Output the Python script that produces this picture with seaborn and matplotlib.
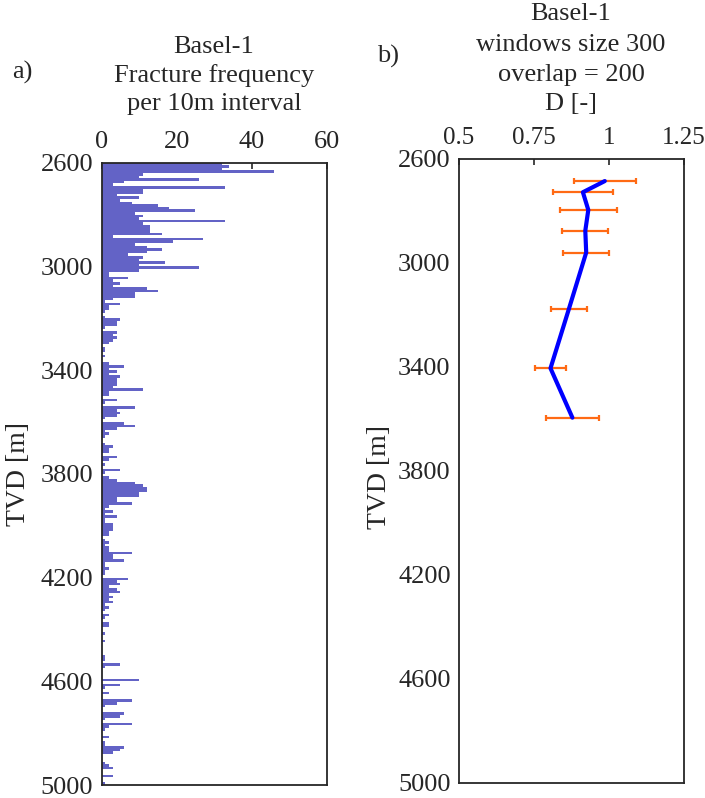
import numpy as np
import pandas as pd
import matplotlib
matplotlib.use("Agg")
import matplotlib.pyplot as plt
import seaborn as sns

# ---------------- data ----------------
# fracture counts per 10 m interval, starting at 2600 m TVD
freq = [32, 34, 32, 46, 11, 10, 26, 6, 3, 33, 11, 11, 4, 10, 5, 8, 15, 18, 25, 9,
        11, 10, 33, 11, 13, 13, 13, 16, 3, 27, 19, 9, 12, 16, 12, 7, 11, 10, 17, 10,
        26, 10, 2, 2, 7, 3, 5, 3, 12, 15, 9, 9, 3, 1, 5, 2, 2, 1, 0, 1,
        5, 4, 4, 1, 0, 4, 3, 4, 3, 2, 0, 1, 1, 0, 1, 0, 0, 2, 6, 2,
        4, 2, 5, 4, 4, 4, 3, 11, 2, 2, 0, 4, 1, 0, 9, 4, 5, 4, 1, 0,
        6, 9, 4, 1, 2, 1, 0, 0, 1, 3, 2, 2, 0, 4, 2, 0, 1, 0, 5, 1,
        0, 2, 4, 9, 11, 12, 12, 10, 10, 4, 4, 8, 2, 1, 3, 1, 4, 1, 1, 3,
        3, 3, 2, 2, 0, 1, 2, 1, 2, 2, 8, 3, 3, 6, 1, 1, 2, 1, 1, 0,
        7, 4, 5, 2, 4, 5, 2, 3, 2, 3, 1, 2, 1, 0, 2, 1, 0, 2, 2, 0,
        0, 1, 0, 0, 1, 0, 0, 0, 0, 0, 1, 1, 0, 5, 1, 0, 0, 0, 0, 10,
        0, 5, 1, 0, 2, 0, 0, 8, 4, 1, 0, 0, 6, 5, 1, 0, 8, 2, 1, 0,
        0, 2, 0, 1, 1, 6, 5, 3, 0, 0, 0, 1, 2, 3, 0, 0, 3, 0, 0, 1]
bin_top = 2600
bin_size = 10
bin_depth = [bin_top + bin_size * (i + 0.5) for i in range(len(freq))]

# fractal dimension D (window 300, overlap 200)
d_depth = [2686, 2729, 2797, 2877, 2961, 3179, 3406, 3596]
d_value = [0.986, 0.913, 0.931, 0.921, 0.924, 0.866, 0.805, 0.878]
d_err = [0.104, 0.100, 0.094, 0.077, 0.077, 0.060, 0.052, 0.087]

y_ticks = [2600, 3000, 3400, 3800, 4200, 4600, 5000]
x1_ticks = [0, 20, 40, 60]
x2_ticks = [0.5, 0.75, 1, 1.25]
x2_labels = ["0.5", "0.75", "1", "1.25"]

# ---------------- style ----------------
sns.set_theme(style="white")
plt.rcParams["font.family"] = ["Liberation Serif", "DejaVu Serif"]
TXT = "#262626"
FS = 19

W, H = 705, 798
fig = plt.figure(figsize=(W / 100, H / 100), dpi=100)


def rect(l, r, t, b):
    return [l / W, 1 - b / H, (r - l) / W, (b - t) / H]


ax1 = fig.add_axes(rect(101.7, 326.7, 162.7, 785.0))
ax2 = fig.add_axes(rect(459.0, 684.0, 158.7, 782.7))

# ---------------- panel a ----------------
df1 = pd.DataFrame({"depth": bin_depth, "freq": freq})
sns.barplot(data=df1, x="freq", y="depth", orient="y", native_scale=True,
            color="#6363C6", saturation=1, width=1.0, errorbar=None,
            linewidth=0, edgecolor="none", ax=ax1)
ax1.set_xlim(0, 60)
ax1.set_xticks(x1_ticks)

# ---------------- panel b ----------------
ax2.errorbar(d_value, d_depth, xerr=d_err, fmt="none", ecolor="#FF6A14",
             elinewidth=1.6, capsize=2.2, capthick=1.6, zorder=2)
df2 = pd.DataFrame({"depth": d_depth, "D": d_value})
sns.lineplot(data=df2, x="D", y="depth", sort=False, estimator=None,
             color="#0000FF", linewidth=3.0, ax=ax2, zorder=3)
ax2.set_xlim(0.5, 1.25)
ax2.set_xticks(x2_ticks)
ax2.set_xticklabels(x2_labels)

for ax in (ax1, ax2):
    ax.set_ylim(5000, 2600)
    ax.set_yticks(y_ticks)
    ax.xaxis.tick_top()
    ax.tick_params(axis="both", direction="in", length=4.5, width=1.2,
                   color=TXT, labelcolor=TXT, labelsize=FS)
    ax.tick_params(axis="x", pad=7)
    ax.tick_params(axis="y", pad=6)
    ax.set_xlabel("")
    ax.set_ylabel("TVD [m]", fontsize=20, color=TXT)
    for s in ax.spines.values():
        s.set_visible(True)
        s.set_color(TXT)
        s.set_linewidth(1.3)
    ax.grid(False)

ax2.tick_params(axis="x", labelsize=18)

ax1.yaxis.set_label_coords(-0.315, 0.5)
ax2.yaxis.set_label_coords(-0.298, 0.49)


def ftext(x, y, s, **kw):
    fig.text(x / W, 1 - y / H, s, ha="center", va="center",
             fontsize=FS, color=TXT, **kw)


# titles
ftext(214, 47, "Basel-1")
ftext(214, 76, "Fracture frequency")
ftext(214, 104, "per 10m interval")
ftext(571, 14, "Basel-1")
ftext(571, 45, "windows size 300")
ftext(571, 75, "overlap = 200")
ftext(571, 104, "D [-]")
ftext(22, 72, "a)")
ftext(388, 56, "b)")

fig.savefig("out.png", dpi=100)
